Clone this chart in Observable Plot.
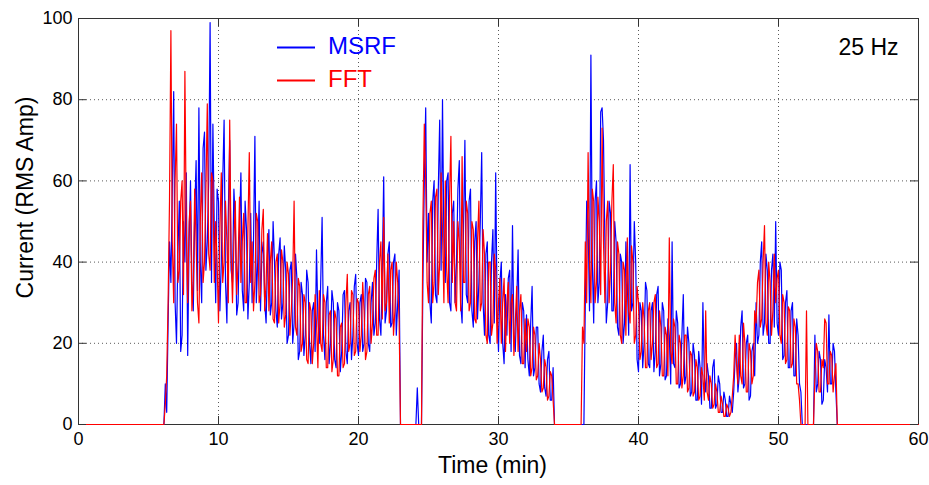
<!DOCTYPE html>
<html>
<head>
<meta charset="utf-8">
<script src="https://cdn.jsdelivr.net/npm/d3@7"></script>
<script src="https://cdn.jsdelivr.net/npm/@observablehq/plot@0.6"></script>
<style>
  html, body { margin: 0; padding: 0; background: #fff; }
  #wrap { position: relative; width: 929px; height: 485px; }
  #legend { position: absolute; left: 0; top: 0; pointer-events: none; }
</style>
</head>
<body>
<div id="wrap"></div>
<script>
// ---- data ----
const xTicks = [0, 10, 20, 30, 40, 50, 60];
const yTicks = [0, 20, 40, 60, 80, 100];
const seriesNames = ["MSRF", "FFT"];
const annotation = "25 Hz";
const xLabel = "Time (min)";
const yLabel = "Current (RMS Amp)";

// each active segment is sampled every 0.1 min from its start time
const segStart = [6.0, 24.0, 35.8];
const sampleStep = 0.1;

const msrf1 = [
  0,0,10,3,25,45,35,58,82,30,
  20,42,55,18,22,50,40,62,17,45,
  60,35,28,52,65,33,78,40,30,68,
  72,38,45,60,99,35,74,48,30,58,
  55,28,40,60,75,35,25,52,70,38,
  35,58,50,27,30,48,62,33,28,55,
  48,26,35,52,30,45,71,30,40,55,
  28,42,45,30,25,40,48,27,30,50,
  40,28,24,42,46,26,30,44,38,20,
  22,38,40,20,25,42,36,16,18,35,
  32,17,22,38,35,20,15,28,30,18,
  43,26,20,35,51,22,16,30,34,15,
  20,33,30,16,14,30,28,13,18,32,
  33,18,15,28,30,16,22,34,37,20,
  17,30,32,18,20,36,35,20,18,30,
  35,22,25,40,53,26,22,38,61,25,
  28,42,45,24,25,40,42,22,30,38,
  0];
const fft1 = [
  0,0,5,12,30,55,97,45,30,60,
  74,35,38,55,60,32,87,48,30,50,
  55,28,35,58,45,30,25,50,62,35,
  40,58,79,42,38,62,60,35,50,40,
  25,48,62,35,40,55,45,30,75,42,
  30,45,55,32,40,56,35,45,52,30,
  30,48,67,35,45,28,35,52,50,30,
  32,48,53,28,35,47,28,40,45,26,
  25,40,42,25,30,43,40,24,27,40,
  37,22,28,36,55,24,22,36,34,18,
  20,32,30,16,15,30,28,15,20,32,
  25,14,33,20,18,32,30,14,14,27,
  28,13,16,28,26,12,12,24,25,14,
  15,30,37,18,20,33,32,17,18,31,
  30,18,22,35,28,16,18,32,34,20,
  25,36,38,22,22,40,45,26,51,28,
  30,42,25,38,40,22,28,40,35,26,
  0];

const msrf2 = [
  0,0,9,0,0,0,35,60,78,40,
  52,30,25,55,60,32,30,58,75,38,
  80,45,35,60,62,30,28,52,55,30,
  40,58,65,30,25,48,70,32,30,55,
  58,28,24,45,50,26,35,50,67,30,
  22,42,45,22,20,40,48,25,62,28,
  18,35,40,20,15,32,22,36,38,18,
  49,22,18,30,43,17,15,30,28,14,
  27,16,12,25,34,12,14,24,24,10,
  8,18,22,9,7,16,18,6,6,14,
  0];
const fft2 = [
  0,0,0,0,0,0,50,74,60,35,
  30,52,55,30,35,56,58,32,40,62,
  48,30,60,38,30,55,71,35,50,30,
  28,50,45,28,66,35,35,55,52,28,
  30,50,48,26,25,45,55,28,30,48,
  42,22,20,40,40,22,25,42,38,20,
  30,36,20,30,36,18,30,35,20,30,
  32,17,25,34,18,28,32,15,15,26,
  18,26,24,12,14,24,22,11,12,20,
  16,8,9,16,14,6,7,13,12,6,
  0];

const msrf3 = [
  0,0,
  0,0,30,55,50,28,91,40,25,55,
  60,30,35,77,78,70,45,25,30,55,
  52,28,28,50,45,24,22,42,40,20,
  25,45,35,22,64,28,30,50,40,16,
  13,30,28,14,20,35,33,15,14,28,
  30,13,18,32,34,12,15,30,28,11,
  12,26,22,10,45,15,14,28,25,9,
  10,22,32,10,12,24,20,7,8,20,
  17,6,6,18,14,5,30,12,8,15,
  12,4,4,14,16,4,5,12,10,3,
  3,8,6,2,2,7,5,3,8,16,
  20,8,12,24,28,9,10,20,22,6,
  7,18,20,12,30,20,22,40,45,22,
  25,42,38,20,20,38,42,24,50,25,
  22,40,38,16,17,30,33,14,14,28,
  30,12,12,26,22,10,8,0,0,0,
  0,0,0,0,0,0,22,8,10,18,
  16,5,6,16,14,8,27,10,10,20,
  18,8,0];
const fft3 = [
  0,0,
  24,20,45,30,67,40,30,58,55,30,
  35,56,50,32,73,45,30,50,55,30,
  38,55,64,30,25,45,42,22,20,40,
  38,22,46,28,25,44,40,20,22,34,
  30,16,18,30,26,14,14,28,30,16,
  20,30,32,14,15,28,24,12,12,24,
  22,12,46,18,15,26,24,10,10,22,
  20,9,12,22,22,8,9,18,17,7,
  8,16,14,6,7,14,12,6,28,8,
  6,12,10,4,5,10,8,3,3,7,
  5,2,2,5,4,2,3,7,12,22,
  15,10,22,12,10,25,20,8,8,20,
  18,10,12,28,25,35,38,24,26,40,
  49,25,22,40,35,22,28,42,30,36,
  38,22,20,32,30,15,16,29,28,14,
  15,26,24,10,10,6,0,0,0,0,
  28,0,0,0,0,0,12,20,18,8,
  8,16,14,26,25,10,10,18,17,8,
  12,15,0];

function build(segs) {
  const pts = [{t: 0, v: 0}];
  segs.forEach((vals, i) => vals.forEach((v, j) => pts.push({t: segStart[i] + j * sampleStep, v})));
  pts.push({t: 60, v: 0});
  return pts;
}
const msrf = build([msrf1, msrf2, msrf3]);
const fft = build([fft1, fft2, fft3]);

const W = 929, H = 485, mL = 78, mR = 11, mT = 18, mB = 61;
const fw = W - mL - mR, fh = H - mT - mB, tl = 8;
const font = "'Liberation Sans', Arial, Helvetica, sans-serif";

const chart = Plot.plot({
  width: W, height: H,
  marginLeft: mL, marginRight: mR, marginTop: mT, marginBottom: mB,
  style: {fontFamily: font, fontSize: "18px", color: "#000", background: "#fff"},
  x: {domain: [0, 60], ticks: xTicks, tickSize: 0, tickPadding: 8, label: null},
  y: {domain: [0, 100], ticks: yTicks, tickSize: 0, tickPadding: 6, label: null},
  marks: [
    Plot.ruleX(xTicks, {x: d => d, stroke: "#000", strokeOpacity: 0.65, strokeDasharray: "1,3"}),
    Plot.ruleY(yTicks, {y: d => d, stroke: "#000", strokeOpacity: 0.65, strokeDasharray: "1,3"}),
    Plot.frame({stroke: "#333"}),
    Plot.line(msrf, {x: "t", y: "v", stroke: "#0000ff", strokeWidth: 1.2}),
    Plot.line(fft, {x: "t", y: "v", stroke: "#ff0000", strokeWidth: 1.2}),
    Plot.tickX(xTicks, {x: d => d, stroke: "#333", insetTop: fh - tl}),
    Plot.tickX(xTicks, {x: d => d, stroke: "#333", insetBottom: fh - tl}),
    Plot.tickY(yTicks, {y: d => d, stroke: "#333", insetRight: fw - tl}),
    Plot.tickY(yTicks, {y: d => d, stroke: "#333", insetLeft: fw - tl}),
    Plot.text([annotation], {text: d => d, frameAnchor: "top-right", textAnchor: "end", dx: -20, dy: 20, fontSize: 23, fill: "#000"}),
    Plot.text([xLabel], {text: d => d, frameAnchor: "bottom", textAnchor: "middle", dx: -6, dy: 48, fontSize: 23, fill: "#000"}),
    Plot.text([yLabel], {text: d => d, frameAnchor: "left", textAnchor: "middle", rotate: -90, dx: -53, dy: -24, fontSize: 23, fill: "#000"})
  ]
});

const wrap = document.getElementById("wrap");
wrap.appendChild(chart);

// legend overlay (no box), as in the reference
const colors = ["#0000ff", "#ff0000"];
const ns = "http://www.w3.org/2000/svg";
const lg = document.createElementNS(ns, "svg");
lg.setAttribute("id", "legend");
lg.setAttribute("width", W);
lg.setAttribute("height", H);
seriesNames.forEach((name, i) => {
  const yLine = 47.5 + i * 33;
  const ln = document.createElementNS(ns, "line");
  ln.setAttribute("x1", 277); ln.setAttribute("x2", 315);
  ln.setAttribute("y1", yLine); ln.setAttribute("y2", yLine);
  ln.setAttribute("stroke", colors[i]); ln.setAttribute("stroke-width", 2);
  lg.appendChild(ln);
  const tx = document.createElementNS(ns, "text");
  tx.setAttribute("x", 328); tx.setAttribute("y", yLine + 6.5);
  tx.setAttribute("fill", colors[i]);
  tx.setAttribute("font-family", font);
  tx.setAttribute("font-size", 24);
  tx.textContent = name;
  lg.appendChild(tx);
});
wrap.appendChild(lg);
</script>
</body>
</html>
